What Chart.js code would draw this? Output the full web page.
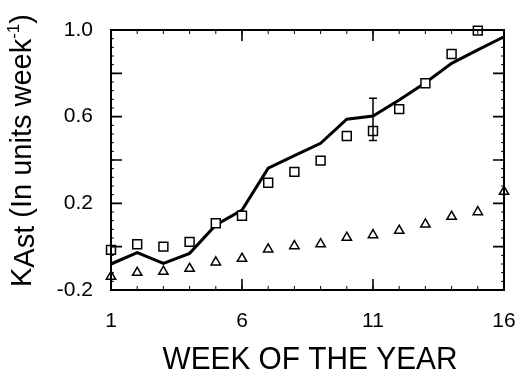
<!DOCTYPE html>
<html>
<head>
<meta charset="utf-8">
<script src="https://cdn.jsdelivr.net/npm/chart.js@4"></script>
<style>
  html, body { margin: 0; padding: 0; background: #fff; }
  #wrap { width: 515px; height: 374px; position: relative; }
</style>
</head>
<body>
<div id="wrap"><canvas id="c" width="515" height="374"></canvas></div>
<script>
// Week of the year
const weeks = [1, 2, 3, 4, 5, 6, 7, 8, 9, 10, 11, 12, 13, 14, 15, 16];
// Measured KAst (squares)
const kastMeasured = [-0.015, 0.011, 0.0, 0.022, 0.108, 0.143, 0.295, 0.345, 0.397, 0.511, 0.534, 0.635, 0.754, 0.889, 0.997, null];
// Model curve (solid line)
const kastModel = [-0.08, -0.028, -0.077, -0.031, 0.10, 0.169, 0.362, 0.42, 0.477, 0.588, 0.603, 0.677, 0.757, 0.846, 0.908, 0.969];
// Second series (triangles)
const kastOther = [-0.138, -0.12, -0.115, -0.101, -0.072, -0.055, -0.012, 0.003, 0.012, 0.042, 0.054, 0.074, 0.103, 0.139, 0.160, 0.254];
// Error bar on the week-11 measurement
const errWeek = [11];
const errLow = [0.49];
const errHigh = [0.685];
// Axis ticks
const xTicks = [1, 6, 11, 16];
const yTicks = [-0.2, 0.2, 0.6, 1.0];
const yMajor = [0, 0.2, 0.4, 0.6, 0.8];
const yMinorStep = 0.04;

const toPoints = (vals) => weeks.map((w, i) => ({ x: w, y: vals[i] }));

const FONT = '"Liberation Sans", Arial, Helvetica, sans-serif';

// Frame, inward ticks, error bar and axis titles
const decor = {
  id: 'decor',
  afterDatasetsDraw(chart) {
    const { ctx, chartArea: a, scales: { x, y } } = chart;
    ctx.save();
    ctx.strokeStyle = '#000';
    ctx.lineCap = 'butt';

    // error bar
    ctx.lineWidth = 1.5;
    errWeek.forEach((w, i) => {
      const px = x.getPixelForValue(w);
      const y1 = y.getPixelForValue(errLow[i]);
      const y2 = y.getPixelForValue(errHigh[i]);
      ctx.beginPath();
      ctx.moveTo(px, y1); ctx.lineTo(px, y2);
      ctx.moveTo(px - 4, y1); ctx.lineTo(px + 4, y1);
      ctx.moveTo(px - 4, y2); ctx.lineTo(px + 4, y2);
      ctx.stroke();
    });

    // frame
    ctx.lineWidth = 2;
    ctx.strokeRect(a.left, a.top, a.right - a.left, a.bottom - a.top);

    // major ticks
    ctx.lineWidth = 1.6;
    ctx.beginPath();
    xTicks.forEach(v => {
      const px = x.getPixelForValue(v);
      ctx.moveTo(px, a.bottom); ctx.lineTo(px, a.bottom - 11);
      ctx.moveTo(px, a.top); ctx.lineTo(px, a.top + 11);
    });
    yMajor.forEach(v => {
      const py = y.getPixelForValue(v);
      ctx.moveTo(a.left, py); ctx.lineTo(a.left + 11, py);
      ctx.moveTo(a.right, py); ctx.lineTo(a.right - 11, py);
    });
    ctx.stroke();

    // minor ticks
    ctx.lineWidth = 1;
    ctx.beginPath();
    weeks.forEach(v => {
      const px = x.getPixelForValue(v);
      ctx.moveTo(px, a.bottom); ctx.lineTo(px, a.bottom - 4);
      ctx.moveTo(px, a.top); ctx.lineTo(px, a.top + 4);
    });
    const nMinor = Math.round((y.max - y.min) / yMinorStep);
    for (let k = 0; k <= nMinor; k++) {
      const py = y.getPixelForValue(y.min + k * yMinorStep);
      ctx.moveTo(a.left, py); ctx.lineTo(a.left + 3, py);
      ctx.moveTo(a.right, py); ctx.lineTo(a.right - 3, py);
    }
    ctx.stroke();

    // x title
    ctx.fillStyle = '#000';
    ctx.font = '31px ' + FONT;
    ctx.textAlign = 'center';
    ctx.textBaseline = 'alphabetic';
    const xt = 'WEEK OF THE YEAR';
    const wt = ctx.measureText(xt).width;
    ctx.save();
    ctx.translate(310, 369);
    ctx.scale(295 / wt, 1);
    ctx.fillText(xt, 0, 0);
    ctx.restore();

    // y title with subscript and superscript, reading bottom to top
    ctx.save();
    ctx.translate(31, 287);
    ctx.rotate(-Math.PI / 2);
    ctx.textAlign = 'left';
    ctx.textBaseline = 'alphabetic';
    const big = '29px ' + FONT;
    const sup = '17px ' + FONT;
    let cx = 0;
    const put = (t, f, dy) => {
      ctx.font = f;
      ctx.fillText(t, cx, dy);
      cx += ctx.measureText(t).width;
    };
    put('K', big, 0);
    put('Ast', big, 3);
    put(' (In units week', big, 0);
    put('-1', sup, -12);
    put(')', big, 0);
    ctx.restore();

    ctx.restore();
  }
};

new Chart(document.getElementById('c'), {
  type: 'scatter',
  data: {
    datasets: [
      {
        label: 'model',
        type: 'line',
        data: toPoints(kastModel),
        borderColor: '#000',
        borderWidth: 3,
        pointRadius: 0,
        tension: 0,
        fill: false,
        order: 3
      },
      {
        label: 'measured',
        data: toPoints(kastMeasured),
        pointStyle: 'rect',
        pointRadius: 6.3,
        borderColor: '#000',
        backgroundColor: '#fff',
        borderWidth: 1.5,
        order: 1
      },
      {
        label: 'other',
        data: toPoints(kastOther),
        pointStyle: 'triangle',
        pointRadius: 5.4,
        borderColor: '#000',
        backgroundColor: '#fff',
        borderWidth: 1.5,
        order: 2
      }
    ]
  },
  options: {
    responsive: false,
    animation: false,
    events: [],
    clip: false,
    layout: { padding: { top: 30, right: 11, left: 0, bottom: 0 } },
    plugins: { legend: { display: false }, tooltip: { enabled: false } },
    scales: {
      x: {
        type: 'linear',
        min: 1, max: 16,
        grid: { display: false },
        border: { display: false },
        afterBuildTicks: (s) => { s.ticks = xTicks.map(v => ({ value: v })); },
        ticks: {
          color: '#000',
          padding: 11,
          font: { family: FONT, size: 21 },
          maxRotation: 0,
          autoSkip: false
        },
        afterFit: (s) => { s.height = 84; s.paddingLeft = 0; s.paddingRight = 0; }
      },
      y: {
        type: 'linear',
        min: -0.2, max: 1.0,
        grid: { display: false },
        border: { display: false },
        afterBuildTicks: (s) => { s.ticks = yTicks.map(v => ({ value: v })); },
        ticks: {
          color: '#000',
          padding: 10,
          font: { family: FONT, size: 21 },
          callback: (v) => (v < 0 ? '-' : '') + Math.abs(v).toFixed(1)
        },
        afterFit: (s) => { s.width = 111; s.paddingTop = 0; s.paddingBottom = 0; }
      }
    }
  },
  plugins: [decor]
});
</script>
</body>
</html>
